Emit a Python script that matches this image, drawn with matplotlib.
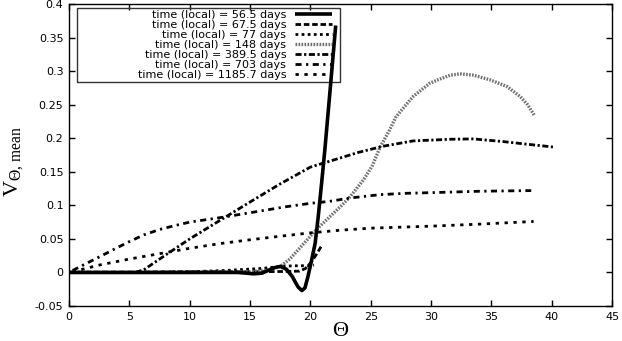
import matplotlib
matplotlib.use("Agg")
import matplotlib.pyplot as plt
from matplotlib.patches import Rectangle

# ---- data ----
labels = ["time (local) = 56.5 days", "time (local) = 67.5 days", "time (local) = 77 days",
          "time (local) = 148 days", "time (local) = 389.5 days", "time (local) = 703 days",
          "time (local) = 1185.7 days"]

t56_x = [0, 5, 10, 14, 15.3, 16.0, 16.5, 17.0, 17.5, 18.0, 18.5, 18.8, 19.0, 19.3, 19.55, 19.8,
         20.1, 20.4, 20.65, 20.93, 21.2, 21.65, 22.1]
t56_y = [0, 0, 0, 0, -0.002, -0.001, 0.003, 0.007, 0.009, 0.005, -0.006, -0.016, -0.022, -0.027,
         -0.023, -0.006, 0.018, 0.044, 0.083, 0.133, 0.183, 0.275, 0.368]

t67_x = [0, 5, 10, 15, 18, 19.1, 19.6, 20.1, 20.5, 20.9]
t67_y = [0.0005, 0.0005, 0.001, 0.001, 0.0015, 0.002, 0.006, 0.016, 0.027, 0.039]

t77_x = [0, 5, 10, 13, 15, 16, 17, 17.8, 19, 20, 20.3]
t77_y = [0, 0, 0.001, 0.003, 0.005, 0.006, 0.008, 0.0095, 0.010, 0.010, 0.011]

t148_x = [0, 5, 10, 15, 16.5, 17.5, 18.3, 19.1, 19.8, 20.5, 21.2, 21.9, 22.6, 23.3, 24.4, 25.1,
          25.8, 26.5, 27.1, 28.5, 29.9, 30.7, 31.6, 32.4, 33.5, 34.9, 36.3, 37.4, 38.0, 38.6]
t148_y = [0, 0, 0, 0.001, 0.004, 0.009, 0.02, 0.036, 0.05, 0.064, 0.076, 0.088, 0.1, 0.113, 0.138,
          0.158, 0.1875, 0.21, 0.232, 0.262, 0.282, 0.288, 0.294, 0.296, 0.294, 0.287, 0.277,
          0.262, 0.25, 0.233]

t389_x = [0, 5.5, 6.2, 8, 10, 13, 15, 17.5, 20, 22, 24, 26, 28.5, 31.6, 33.5, 36, 38, 40.1]
t389_y = [0, 0, 0.004, 0.026, 0.05, 0.083, 0.105, 0.132, 0.157, 0.168, 0.179, 0.188, 0.196,
          0.1985, 0.199, 0.195, 0.191, 0.187]

t703_x = [0.3, 1.5, 2.6, 4, 5, 6.2, 7.5, 8.8, 10, 11.5, 13, 16, 18, 20, 21.6, 23.3, 25.8, 28,
          30.2, 34, 38.3]
t703_y = [0.003, 0.014, 0.024, 0.037, 0.046, 0.056, 0.064, 0.07, 0.075, 0.079, 0.083, 0.092,
          0.098, 0.103, 0.106, 0.111, 0.116, 0.118, 0.119, 0.121, 0.122]

t1185_x = [0.3, 2.5, 5, 7.5, 10, 12.5, 15, 17.5, 20, 22.5, 25, 30, 34, 38.5]
t1185_y = [0.001, 0.011, 0.02, 0.028, 0.036, 0.043, 0.0487, 0.054, 0.059, 0.063, 0.066, 0.069,
           0.072, 0.076]

xticks = [0, 5, 10, 15, 20, 25, 30, 35, 40, 45]
yticks = [-0.05, 0, 0.05, 0.1, 0.15, 0.2, 0.25, 0.3, 0.35, 0.4]
ytick_labels = ["-0.05", "0", "0.05", "0.1", "0.15", "0.2", "0.25", "0.3", "0.35", "0.4"]

# ---- figure ----
plt.rcParams['font.family'] = ['DejaVu Sans']
plt.rcParams['mathtext.fontset'] = 'custom'
plt.rcParams['mathtext.rm'] = 'Liberation Serif'
plt.rcParams['mathtext.it'] = 'Liberation Serif'

fig = plt.figure(figsize=(6.22, 3.41), dpi=100)
ax = fig.add_axes([0.111, 0.1026, 0.873, 0.8856])

ax.plot(t56_x, t56_y, color='black', lw=2.6, solid_capstyle='butt', label=labels[0], zorder=7)
ax.plot(t67_x, t67_y, color='black', lw=2.0, dashes=(2.0, 1.0), label=labels[1])
ax.plot(t77_x, t77_y, color='black', lw=2.0, dashes=(1.0, 1.2), label=labels[2])
ax.plot(t148_x, t148_y, color='#707070', lw=2.4, dashes=(0.5, 0.4), label=labels[3])
ax.plot(t389_x, t389_y, color='black', lw=2.0, dashes=(2.2, 0.9, 0.8, 0.9), label=labels[4])
ax.plot(t703_x, t703_y, color='black', lw=2.0, dashes=(2.2, 1.6, 0.8, 1.6), label=labels[5])
ax.plot(t1185_x, t1185_y, color='black', lw=2.0, dashes=(1.2, 2.0), label=labels[6])

ax.set_xlim(0, 45)
ax.set_ylim(-0.05, 0.4)
ax.set_xticks(xticks)
ax.set_yticks(yticks)
ax.set_yticklabels(ytick_labels)
ax.tick_params(direction='in', length=4, width=1, top=True, right=True, labelsize=8, pad=4)
for s in ax.spines.values():
    s.set_linewidth(1.0)

ax.set_xlabel(r'$\Theta$', fontsize=16, labelpad=-1)
ax.set_ylabel(r'$\mathrm{V}_{\Theta,\,\mathrm{mean}}$', fontsize=16)
ax.yaxis.set_label_coords(-0.082, 0.48)

# legend: right-aligned entries (gnuplot style), unfilled frame wider to the left
leg = ax.legend(loc='upper right', bbox_to_anchor=(0.488, 0.987), markerfirst=False,
                fontsize=8, frameon=False, handlelength=3.3,
                handletextpad=0.8, labelspacing=0.0, borderpad=0.2, borderaxespad=0)
leg.set_zorder(6)
fig.canvas.draw()
bb = leg.get_window_extent().transformed(ax.transAxes.inverted())
frame = Rectangle((0.0147, bb.y0), 0.499 - 0.0147, 0.987 - bb.y0, transform=ax.transAxes,
                  facecolor='none', edgecolor='#333333', linewidth=1.0, zorder=5.5)
ax.add_patch(frame)

fig.savefig('out.png', dpi=100)
